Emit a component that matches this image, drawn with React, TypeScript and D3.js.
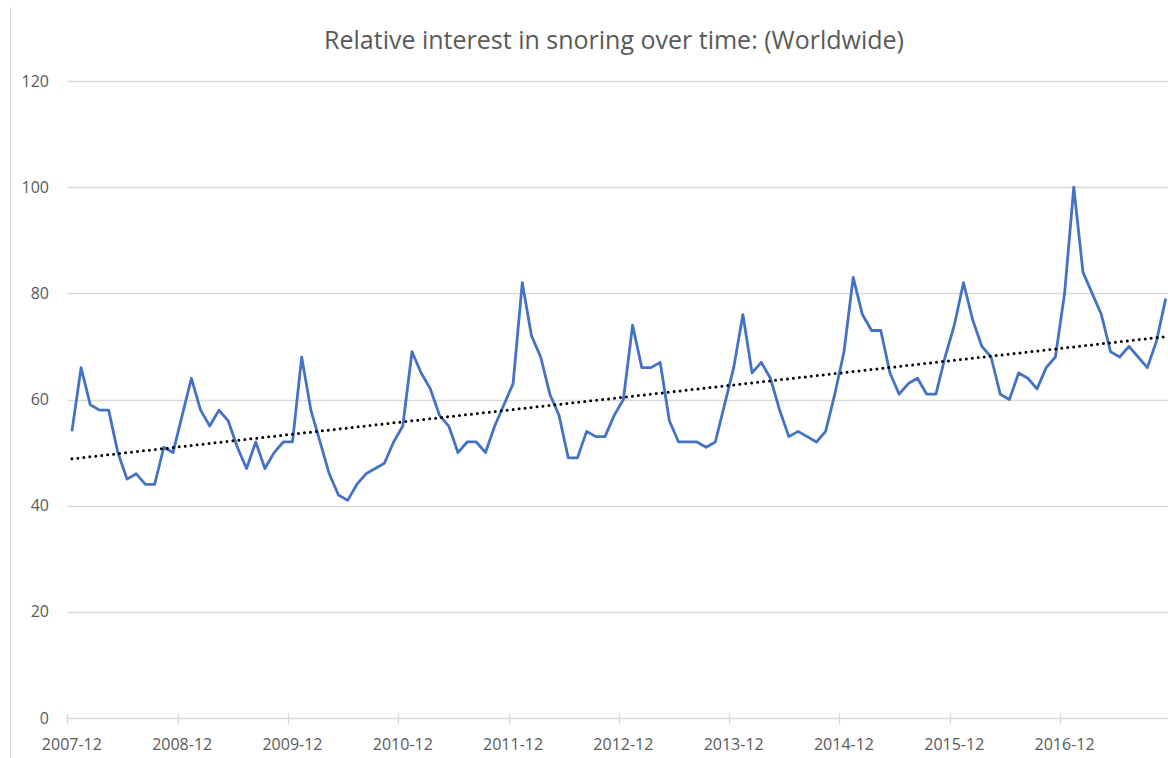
import React, { useRef, useEffect } from 'react';
import * as d3 from 'd3';

// monthly categories, Dec 2007 .. Nov 2017
const months = d3.timeMonth.range(new Date(2007, 11, 1), new Date(2017, 11, 1));

// relative search interest, one value per month
const interest = [
  54,
  66, 59, 58, 58, 50, 45, 46, 44, 44, 51, 50, 57,
  64, 58, 55, 58, 56, 51, 47, 52, 47, 50, 52, 52,
  68, 58, 52, 46, 42, 41, 44, 46, 47, 48, 52, 55,
  69, 65, 62, 57, 55, 50, 52, 52, 50, 55, 59, 63,
  82, 72, 68, 61, 57, 49, 49, 54, 53, 53, 57, 60,
  74, 66, 66, 67, 56, 52, 52, 52, 51, 52, 59, 66,
  76, 65, 67, 64, 58, 53, 54, 53, 52, 54, 61, 69,
  83, 76, 73, 73, 65, 61, 63, 64, 61, 61, 68, 74,
  82, 75, 70, 68, 61, 60, 65, 64, 62, 66, 68, 80,
  100, 84, 80, 76, 69, 68, 70, 68, 66, 71, 79,
];

const yTicks = [0, 20, 40, 60, 80, 100, 120];
const tickLabels = ['2007-12', '2008-12', '2009-12', '2010-12', '2011-12', '2012-12', '2013-12', '2014-12', '2015-12', '2016-12'];

const title = 'Relative interest in snoring over time: (Worldwide)';

const fmt = d3.timeFormat('%Y-%m');

const App = () => {
  const chartRef = useRef<SVGSVGElement>(null);

  useEffect(() => {
    const width = 1168;
    const height = 758;
    const font = '"Open Sans", "Liberation Sans", sans-serif';
    const textColor = '#595959';
    const gridColor = '#d9d9d9';

    const svg = d3.select(chartRef.current);
    svg.selectAll('*').remove();
    svg.attr('width', width).attr('height', height);

    svg.append('rect').attr('width', width).attr('height', height).attr('fill', '#fff');

    // chart border (only the left edge is inside the picture)
    svg
      .append('line')
      .attr('x1', 10.5)
      .attr('x2', 10.5)
      .attr('y1', 7)
      .attr('y2', height)
      .attr('stroke', gridColor)
      .attr('stroke-width', 1);

    const data = months.map((m, i) => ({ label: fmt(m), value: interest[i] }));

    const x = d3
      .scaleBand()
      .domain(data.map((d) => d.label))
      .range([67.3, 1170.3])
      .padding(0);

    const y = d3.scaleLinear().domain([0, 120]).range([718, 81]);

    const cx = (d) => x(d.label) + x.bandwidth() / 2;

    // gridlines
    svg
      .append('g')
      .selectAll('line')
      .data(yTicks.filter((t) => t > 0))
      .enter()
      .append('line')
      .attr('x1', 67.3)
      .attr('x2', width)
      .attr('y1', (d) => Math.round(y(d)) + 0.5)
      .attr('y2', (d) => Math.round(y(d)) + 0.5)
      .attr('stroke', gridColor)
      .attr('stroke-width', 1.3);

    // y labels
    svg
      .append('g')
      .selectAll('text')
      .data(yTicks)
      .enter()
      .append('text')
      .attr('x', 49)
      .attr('y', (d) => y(d))
      .attr('dy', '0.35em')
      .attr('text-anchor', 'end')
      .attr('font-family', font)
      .attr('font-size', '16px')
      .attr('fill', textColor)
      .text((d) => d);

    // x axis line and ticks
    const axisY = Math.round(y(0)) + 0.5;
    svg
      .append('line')
      .attr('x1', 67.3)
      .attr('x2', width)
      .attr('y1', axisY)
      .attr('y2', axisY)
      .attr('stroke', gridColor)
      .attr('stroke-width', 1.3);

    svg
      .append('g')
      .selectAll('line')
      .data(tickLabels)
      .enter()
      .append('line')
      .attr('x1', (d) => Math.round(x(d)) + 0.5)
      .attr('x2', (d) => Math.round(x(d)) + 0.5)
      .attr('y1', axisY - 5)
      .attr('y2', axisY + 6)
      .attr('stroke', gridColor)
      .attr('stroke-width', 1.3);

    svg
      .append('g')
      .selectAll('text')
      .data(tickLabels)
      .enter()
      .append('text')
      .attr('x', (d) => x(d) + x.bandwidth() / 2)
      .attr('y', 750)
      .attr('text-anchor', 'middle')
      .attr('font-family', font)
      .attr('font-size', '16px')
      .attr('fill', textColor)
      .text((d) => d);

    // series line
    const line = d3
      .line()
      .x((d) => cx(d))
      .y((d) => y(d.value));

    svg
      .append('path')
      .datum(data)
      .attr('d', line)
      .attr('fill', 'none')
      .attr('stroke', '#4472c4')
      .attr('stroke-width', 2.8)
      .attr('stroke-linejoin', 'round');

    // linear trendline (least squares over category index)
    const n = data.length;
    const mx = d3.mean(data, (d, i) => i);
    const my = d3.mean(data, (d) => d.value);
    const sxy = d3.sum(data, (d, i) => (i - mx) * (d.value - my));
    const sxx = d3.sum(data, (d, i) => (i - mx) * (i - mx));
    const slope = sxy / sxx;
    const icpt = my - slope * mx;
    const trend = [0, n - 1].map((i) => ({ label: data[i].label, value: icpt + slope * i }));

    svg
      .append('path')
      .datum(trend)
      .attr('d', line)
      .attr('fill', 'none')
      .attr('stroke', '#000')
      .attr('stroke-width', 3)
      .attr('stroke-linecap', 'round')
      .attr('stroke-dasharray', '0 6');

    // title
    svg
      .append('text')
      .attr('x', 614)
      .attr('y', 49)
      .attr('text-anchor', 'middle')
      .attr('font-family', font)
      .attr('font-size', '25px')
      .attr('fill', textColor)
      .text(title);
  }, []);

  return <svg ref={chartRef} style={{ position: 'absolute', left: 0, top: 0 }}></svg>;
};

export default App;
